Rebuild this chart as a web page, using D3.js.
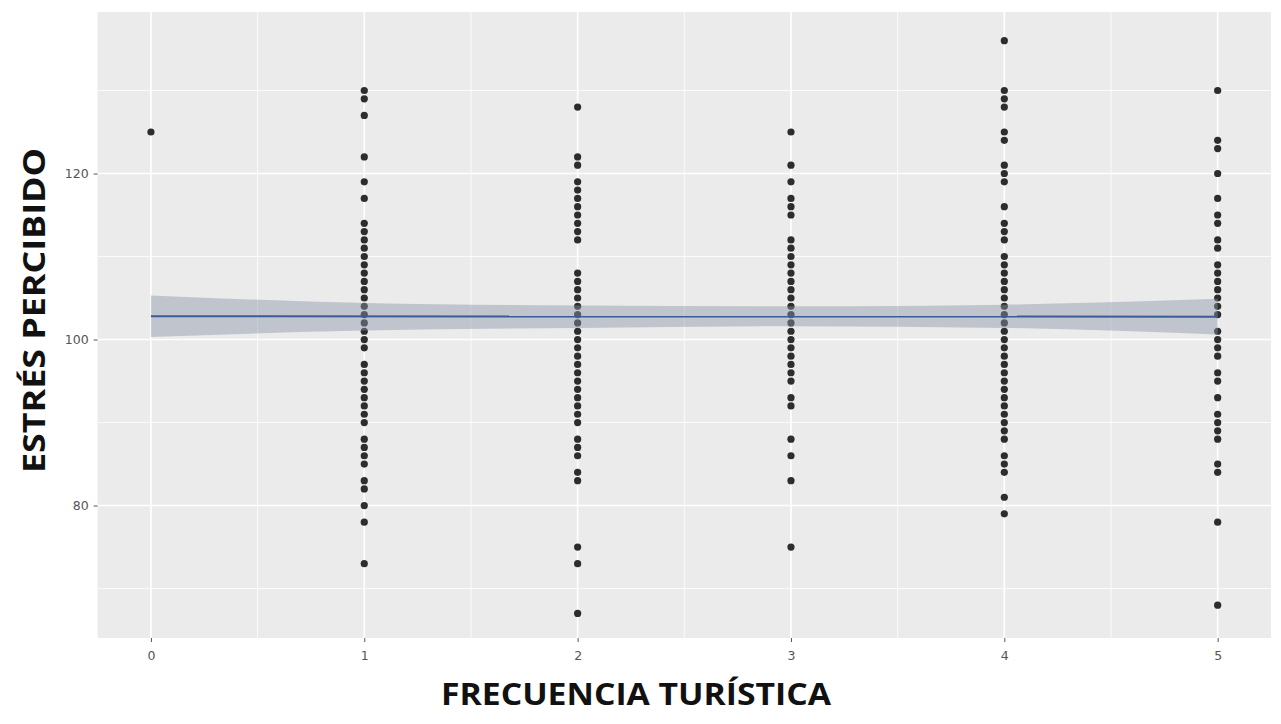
<!DOCTYPE html>
<html>
<head>
<meta charset="utf-8">
<script src="https://cdn.jsdelivr.net/npm/d3@7"></script>
<style>
  body { margin: 0; background: #fff; }
</style>
</head>
<body>
<svg id="chart" width="1281" height="724"></svg>
<script>
// values, one array per frequency level
const freq0 = [125]
const freq1 = [73, 78, 80, 82, 83, 85, 86, 87, 88, 90, 91, 92, 93, 94, 95, 96, 97, 99, 100, 101, 102, 103, 104,
  105, 106, 107, 108, 109, 110, 111, 112, 113, 114, 117, 119, 122, 127, 129, 130]
const freq2 = [67, 73, 75, 83, 84, 86, 87, 88, 90, 91, 92, 93, 94, 95, 96, 97, 98, 99, 100, 101, 102, 103, 104,
  105, 106, 107, 108, 112, 113, 114, 115, 116, 117, 118, 119, 121, 122, 128]
const freq3 = [75, 83, 86, 88, 92, 93, 95, 96, 97, 98, 99, 100, 101, 102, 103, 104, 105, 106, 107, 108, 109, 110,
  111, 112, 115, 116, 117, 119, 121, 125]
const freq4 = [79, 81, 84, 85, 86, 88, 89, 90, 91, 92, 93, 94, 95, 96, 97, 98, 99, 100, 101, 102, 103, 104, 105,
  106, 107, 108, 109, 110, 112, 113, 114, 116, 119, 120, 121, 124, 125, 128, 129, 130, 136]
const freq5 = [68, 78, 84, 85, 88, 89, 90, 91, 93, 95, 96, 98, 99, 100, 101, 103, 104, 105, 106, 107, 108, 109,
  111, 112, 114, 115, 117, 120, 123, 124, 130]

// fitted line and confidence band
const fitX = [0, 5]
const fitY = [102.8, 102.75]
const bandX = [0, 1, 2, 3, 4, 5]
const bandLo = [100.3, 101.1, 101.4, 101.6, 101.4, 100.6]
const bandHi = [105.3, 104.4, 104.1, 104.0, 104.2, 104.9]

const xTicks = [0, 1, 2, 3, 4, 5]
const xMinor = [0.5, 1.5, 2.5, 3.5, 4.5]
const yTicks = [80, 100, 120]
const yMinor = [70, 90, 110, 130]

const points = []
;[freq0, freq1, freq2, freq3, freq4, freq5].forEach((vals, i) => {
  vals.forEach(v => points.push({ f: i, v: v }))
})

const svg = d3.select('#chart')

const pLeft = 97.6, pRight = 1271, pTop = 12, pBottom = 638

const x = d3.scaleLinear().domain([-0.25, 5.25]).range([pLeft, pRight])
const y = d3.scaleLinear().domain([64.04, 139.46]).range([pBottom, pTop])

// panel
svg.append('rect')
  .attr('x', pLeft).attr('y', pTop)
  .attr('width', pRight - pLeft).attr('height', pBottom - pTop)
  .attr('fill', '#ebebeb')

const grid = svg.append('g')
grid.selectAll('line.ymin').data(yMinor).enter().append('line')
  .attr('x1', pLeft).attr('x2', pRight)
  .attr('y1', d => y(d)).attr('y2', d => y(d))
  .attr('stroke', '#fff').attr('stroke-width', 0.8)
grid.selectAll('line.xmin').data(xMinor).enter().append('line')
  .attr('y1', pTop).attr('y2', pBottom)
  .attr('x1', d => x(d)).attr('x2', d => x(d))
  .attr('stroke', '#fff').attr('stroke-width', 0.8)
grid.selectAll('line.ymaj').data(yTicks).enter().append('line')
  .attr('x1', pLeft).attr('x2', pRight)
  .attr('y1', d => y(d)).attr('y2', d => y(d))
  .attr('stroke', '#fff').attr('stroke-width', 1.6)
grid.selectAll('line.xmaj').data(xTicks).enter().append('line')
  .attr('y1', pTop).attr('y2', pBottom)
  .attr('x1', d => x(d)).attr('x2', d => x(d))
  .attr('stroke', '#fff').attr('stroke-width', 1.6)

// points
svg.append('g').selectAll('circle')
  .data(points).enter().append('circle')
  .attr('cx', d => x(d.f))
  .attr('cy', d => y(d.v))
  .attr('r', 3.6)
  .attr('fill', '#111')
  .attr('fill-opacity', 0.88)

// confidence band
const band = bandX.map((d, i) => ({ x: d, lo: bandLo[i], hi: bandHi[i] }))
const area = d3.area()
  .x(d => x(d.x))
  .y0(d => y(d.lo))
  .y1(d => y(d.hi))
  .curve(d3.curveMonotoneX)
svg.append('path')
  .datum(band)
  .attr('d', area)
  .attr('fill', '#8c94a8')
  .attr('fill-opacity', 0.45)

const line = d3.line()
  .x((d, i) => x(fitX[i]))
  .y(d => y(d))
svg.append('path')
  .datum(fitY)
  .attr('d', line)
  .attr('fill', 'none')
  .attr('stroke', '#3b5a98')
  .attr('stroke-width', 2)

// axes
const xaxis = d3.axisBottom(x).tickValues(xTicks).tickSize(4).tickPadding(9).tickFormat(d3.format('d'))
const yaxis = d3.axisLeft(y).tickValues(yTicks).tickSize(4).tickPadding(5)

svg.append('g')
  .attr('class', 'axis')
  .attr('transform', 'translate(0,' + pBottom + ')')
  .call(xaxis)
svg.append('g')
  .attr('class', 'axis')
  .attr('transform', 'translate(' + pLeft + ',0)')
  .call(yaxis)

svg.selectAll('.axis path.domain').remove()
svg.selectAll('.axis line')
  .style('stroke', '#555')
  .style('stroke-width', 1)
svg.selectAll('.axis text')
  .style('fill', '#555')
  .style('font-family', 'DejaVu Sans')
  .style('font-size', '12.5px')

// titles
svg.append('text')
  .attr('x', 636)
  .attr('y', 705)
  .attr('text-anchor', 'middle')
  .attr('textLength', 390)
  .attr('lengthAdjust', 'spacingAndGlyphs')
  .style('font-family', 'Open Sans')
  .style('font-weight', 'bold')
  .style('font-size', '31px')
  .style('fill', '#111')
  .text('FRECUENCIA TURÍSTICA')

svg.append('text')
  .attr('transform', 'translate(45,310.5) rotate(-90)')
  .attr('text-anchor', 'middle')
  .attr('textLength', 325)
  .attr('lengthAdjust', 'spacingAndGlyphs')
  .style('font-family', 'Open Sans')
  .style('font-weight', 'bold')
  .style('font-size', '31px')
  .style('fill', '#111')
  .text('ESTRÉS PERCIBIDO')
</script>
</body>
</html>
